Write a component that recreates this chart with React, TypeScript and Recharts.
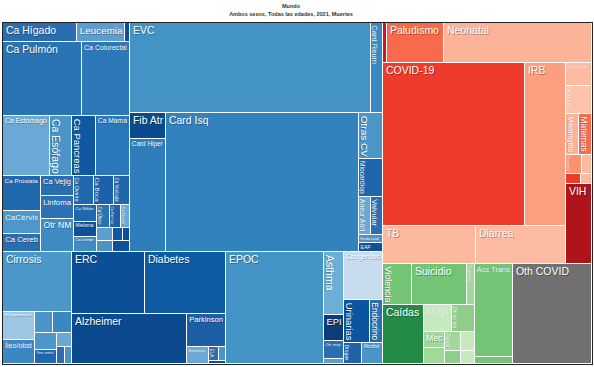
import React from 'react';
import { Treemap } from 'recharts';

// Mundo, ambos sexos, todas las edades, 2021 - muertes (miles)

// Neoplasias
const neoplasmCauses = [
  'Ca Hígado', 'Leucemia', 'Ot Neo', 'Ca Pulmón', 'Ca Colorectal', 'Ca Estómago', 'Ca Esófago',
  'Ca Pancreas', 'Ca Mama', 'Ca Próstata', 'CaCérvix', 'Ca Cereb', 'Ca Vejig', 'Linfoma', 'Otr NM',
  'Ca Ovario', 'Ca Boca', 'Ca Vesícula', 'Ca Riñón', 'Mieloma', 'Ca Laringe', 'Ca Útero',
  'Ca Faringe', 'Ca Nasof', 'Ca Piel', 'Melanoma', 'Ca Tiroides', 'Mesotelioma', 'L Hodgkin',
];
const neoplasmDeaths = [
  468, 305, 54, 1953, 1186, 940, 445,
  472, 692, 441, 288, 249, 219, 259, 373,
  190, 190, 163, 131, 116, 114, 98,
  81, 75, 68, 61, 44, 31, 27,
];

// Cardiovasculares
const strokeCauses = ['EVC', 'Card Reum'];
const strokeDeaths = [7288, 356];
const heartCauses = [
  'Fib Atr', 'Card Hiper', 'Card Isq', 'Otras CV', 'Miocardiop', 'Aneur Aórt', 'Valvular', 'Endocard', 'EAP',
];
const heartDeaths = [319, 1356, 9017, 373, 305, 153, 153, 68, 54];

// Otras no transmisibles
const digestiveCauses = [
  'Cirrosis', 'Enf digestivas otr', 'Íleo/obst', 'Úlcera pép', 'Pancreatitis',
  'Vesícula biliar', 'Vasc intest', 'Hernia', 'Apendicitis', 'EII',
];
const digestiveDeaths = [1390, 305, 254, 129, 129, 129, 102, 68, 44, 44];
const diabKidneyCauses = ['ERC', 'Diabetes'];
const diabKidneyDeaths = [1525, 1698];
const neuroCauses = ['Alzheimer', 'Parkinson', 'Epilepsia', 'ELA', 'EM', 'Otr neuro'];
const neuroDeaths = [1907, 424, 122, 46, 34, 31];
const respCauses = ['EPOC', 'Asthma', 'EPI', 'Otr resp', 'Neumocon'];
const respDeaths = [3661, 420, 176, 119, 51];
const otherNcdCauses = ['Congénitas', 'Urinarias', 'Endocrino'];
const otherNcdDeaths = [620, 366, 198];
const substanceCauses = ['Drogas', 'Alcohol'];
const substanceDeaths = [122, 146];

// Transmisibles, maternas, neonatales y nutricionales
const cmnnTopCauses = ['ETS', 'Paludismo', 'Neonatal'];
const cmnnTopDeaths = [54, 767, 1943];
const covidLriCauses = ['COVID-19', 'IRB'];
const covidLriDeaths = [7756, 2224];
const tbDiarrheaCauses = ['TB', 'Diarrea'];
const tbDiarrheaDeaths = [1179, 1167];
const otherInfCauses = [
  'Desnutrición', 'Otras infec', 'Meningitis', 'Maternas', 'Hepatitis',
  'Encefalitis', 'Sarampión', 'Tos ferina', 'VIH',
];
const otherInfDeaths = [203, 244, 180, 186, 102, 68, 51, 37, 702];

// Lesiones
const intentionalCauses = ['Violencia', 'Suicidio', 'Conflicto'];
const intentionalDeaths = [399, 760, 116];
const unintentionalCauses = [
  'Caídas', 'Ahoga', 'Otras les', 'Mec', 'Cuerpo extr', 'Fuego', 'Envenenam', 'Animales', 'Calor/frío',
];
const unintentionalDeaths = [812, 254, 203, 115, 112, 102, 85, 68, 61];
const transportCauses = ['Acc Trans', 'Otro trans'];
const transportDeaths = [1172, 90];

// Otros resultados de la pandemia
const otherCovidCauses = ['Oth COVID'];
const otherCovidDeaths = [2685];

type TreeNode = { name: string; value?: number; children?: TreeNode[] };

const leaves = (names: string[], values: number[]): TreeNode[] =>
  names.map((name, i) => ({ name, value: values[i] }));
const group = (name: string, children: TreeNode[]): TreeNode => ({ name, children });

const data: TreeNode[] = [
  group('No transmisibles', [
    group('ENT sup', [
      group('Neoplasias', leaves(neoplasmCauses, neoplasmDeaths)),
      group('Cardiovasculares', [
        group('Cerebrovasc', leaves(strokeCauses, strokeDeaths)),
        group('Cardiacas', leaves(heartCauses, heartDeaths)),
      ]),
    ]),
    group('ENT inf', [
      group('Digestivas', leaves(digestiveCauses, digestiveDeaths)),
      group('Otras ENT', [
        group('Diabetes y ERC', leaves(diabKidneyCauses, diabKidneyDeaths)),
        group('Neurológicas', leaves(neuroCauses, neuroDeaths)),
        group('Respiratorias', leaves(respCauses, respDeaths)),
        group('Otras no trans', leaves(otherNcdCauses, otherNcdDeaths)),
        group('Sustancias', leaves(substanceCauses, substanceDeaths)),
      ]),
    ]),
  ]),
  group('Transmisibles', [
    ...leaves(cmnnTopCauses, cmnnTopDeaths),
    group('Transmisibles resto', [
      group('Principales', [
        group('COVID e IRB', leaves(covidLriCauses, covidLriDeaths)),
        ...leaves(tbDiarrheaCauses, tbDiarrheaDeaths),
      ]),
      group('Otras infecciosas', leaves(otherInfCauses, otherInfDeaths)),
    ]),
  ]),
  group('Lesiones', [
    group('Intencionales', leaves(intentionalCauses, intentionalDeaths)),
    group('No intencionales', leaves(unintentionalCauses, unintentionalDeaths)),
    group('Transporte', leaves(transportCauses, transportDeaths)),
  ]),
  ...leaves(otherCovidCauses, otherCovidDeaths),
];

const cellColors: Record<string, string> = {
  'Ca Hígado': '#2a6db0', 'Leucemia': '#5e9dd0', 'Ot Neo': '#0c4f96', 'Ca Pulmón': '#2a73b5',
  'Ca Colorectal': '#2d78b9', 'Ca Estómago': '#6aa8d6', 'Ca Esófago': '#4a94c8', 'Ca Pancreas': '#1058a3',
  'Ca Mama': '#2a78b9', 'Ca Próstata': '#2068ad', 'CaCérvix': '#4d97cb', 'Ca Cereb': '#2a6db0',
  'Ca Vejig': '#2a6db0', 'Linfoma': '#2a72b4', 'Otr NM': '#3f8cc4', 'Ca Ovario': '#2068ad',
  'Ca Boca': '#1c62a9', 'Ca Vesícula': '#1f66ad', 'Ca Riñón': '#2068ad', 'Mieloma': '#0e519b',
  'Ca Laringe': '#3f8cc4', 'Ca Útero': '#2a72b4', 'Ca Faringe': '#1c62a9', 'Ca Nasof': '#6aa8d6',
  'Ca Piel': '#5e9dd0', 'Melanoma': '#4a94c8', 'Ca Tiroides': '#1058a3', 'Mesotelioma': '#0c4f96',
  'L Hodgkin': '#0e519b',
  'EVC': '#4393c7', 'Card Reum': '#3b89c2', 'Otras CV': '#4a96c9', 'Miocardiop': '#1f66ad',
  'Fib Atr': '#0b4a8f', 'Card Hiper': '#2f7dbb', 'Card Isq': '#3282be', 'Aneur Aórt': '#6aa8d6',
  'Valvular': '#2a6db0', 'Endocard': '#4a94c8', 'EAP': '#0e519b',
  'Cirrosis': '#4b97ca', 'Enf digestivas otr': '#9cc6e4', 'Íleo/obst': '#3a87c2', 'Úlcera pép': '#4a94c8',
  'Pancreatitis': '#3a87c2', 'Vesícula biliar': '#4b97ca', 'Vasc intest': '#2068ad', 'Hernia': '#6aa8d6',
  'Apendicitis': '#2a6db0', 'EII': '#4a94c8',
  'ERC': '#0b4f97', 'Diabetes': '#0e5aa3',
  'Alzheimer': '#0b4a8f', 'Parkinson': '#1c5fa5', 'Epilepsia': '#6aa8d6', 'ELA': '#2a6db0',
  'EM': '#4a94c8', 'Otr neuro': '#0e519b',
  'EPOC': '#4393c7', 'Asthma': '#6baed6', 'EPI': '#0a3d7a', 'Otr resp': '#2a6db0', 'Neumocon': '#5e9dd0',
  'Congénitas': '#c8dcef', 'Urinarias': '#0b55a0', 'Endocrino': '#2a6fb1',
  'Drogas': '#1f62a9', 'Alcohol': '#4a94c8',
  'ETS': '#cb181d', 'Paludismo': '#f9694b', 'Neonatal': '#fcb398', 'COVID-19': '#ef3b2c',
  'IRB': '#fc9e80', 'TB': '#fdb99d', 'Diarrea': '#fdbca1', 'Desnutrición': '#fcbba1',
  'Otras infec': '#fdc4ab', 'Meningitis': '#fcb398', 'Maternas': '#fb6a4a', 'Hepatitis': '#fc9272',
  'Encefalitis': '#fcbba1', 'Sarampión': '#ef3b2c', 'Tos ferina': '#fcbba1', 'VIH': '#b0141b',
  'Violencia': '#74c476', 'Suicidio': '#74c476', 'Conflicto': '#a1d99b',
  'Caídas': '#238b45', 'Ahoga': '#c7e9c0', 'Otras les': '#8fce8a', 'Mec': '#a1d99b',
  'Cuerpo extr': '#a1d99b', 'Fuego': '#a1d99b', 'Envenenam': '#c7e9c0', 'Animales': '#8fce8a',
  'Calor/frío': '#c7e9c0', 'Acc Trans': '#74c476', 'Otro trans': '#74c476',
  'Oth COVID': '#707070',
};

const FONT = '"Liberation Sans", Arial, Helvetica, sans-serif';
const MAX_FS = 10.5;
const MIN_FS = 3.5;

let measureCtx: CanvasRenderingContext2D | null = null;
const emWidth = (text: string) => {
  if (!measureCtx) measureCtx = document.createElement('canvas').getContext('2d');
  if (!measureCtx) return text.length * 0.55;
  measureCtx.font = `100px ${FONT}`;
  return measureCtx.measureText(text).width / 100;
};

// label fits the cell: horizontal unless it would get too small, then vertical
function CellLabel({ name, x, y, w, h }: { name: string; x: number; y: number; w: number; h: number }) {
  const em = emWidth(name);
  const fsH = Math.min(MAX_FS, (w - 4) / em, (h - 2) * 0.85);
  const fsV = Math.min(MAX_FS, (h - 4) / em, (w - 2) * 0.85);
  const horizontal = fsH >= 6 || fsH >= fsV;
  const fs = horizontal ? fsH : fsV;
  if (fs < MIN_FS) return null;
  const pad = Math.max(1.5, fs * 0.28);
  const off = fs > 8 ? 0.8 : 0.45;
  if (horizontal) {
    const bx = x + pad;
    const by = y + pad + fs * 0.8;
    return (
      <g fontFamily={FONT} fontSize={fs}>
        <text x={bx + off} y={by + off} fill="#000" fillOpacity={0.35}>{name}</text>
        <text x={bx} y={by} fill="#fff">{name}</text>
      </g>
    );
  }
  const bx = x + pad * 0.7;
  const by = y + pad;
  return (
    <g fontFamily={FONT} fontSize={fs}>
      <text transform={`translate(${bx - off},${by + off}) rotate(90)`} fill="#000" fillOpacity={0.35}>{name}</text>
      <text transform={`translate(${bx},${by}) rotate(90)`} fill="#fff">{name}</text>
    </g>
  );
}

const renderCell = (props: any) => {
  const { x, y, width, height, name, children } = props;
  if ((children && children.length) || !(width > 0) || !(height > 0)) return <g />;
  const w = Math.max(0, width - 1);
  const h = Math.max(0, height - 1);
  return (
    <g>
      <rect x={x} y={y} width={w} height={h} fill={cellColors[name] ?? '#4292c6'} />
      <CellLabel name={name} x={x} y={y} w={w} h={h} />
    </g>
  );
};

export default function App() {
  return (
    <div style={{ position: 'absolute', left: 0, top: 0, width: 594, height: 367, background: '#fff', fontFamily: FONT }}>
      <div style={{ position: 'absolute', left: 0, top: 3, width: 582, textAlign: 'center', fontSize: 5.5, fontWeight: 700, color: '#333', lineHeight: '7px' }}>
        Mundo
      </div>
      <div style={{ position: 'absolute', left: 0, top: 11, width: 582, textAlign: 'center', fontSize: 5.5, fontWeight: 700, color: '#333', lineHeight: '7px' }}>
        Ambos sexos, Todas las edades, 2021, Muertes
      </div>
      <div style={{ position: 'absolute', left: 2, top: 22, width: 589, height: 341, border: '1px solid #222' }}>
        <Treemap
          width={589}
          height={341}
          data={data}
          dataKey="value"
          nameKey="name"
          aspectRatio={(1 + Math.sqrt(5)) / 2}
          isAnimationActive={false}
          content={renderCell}
        />
      </div>
    </div>
  );
}
